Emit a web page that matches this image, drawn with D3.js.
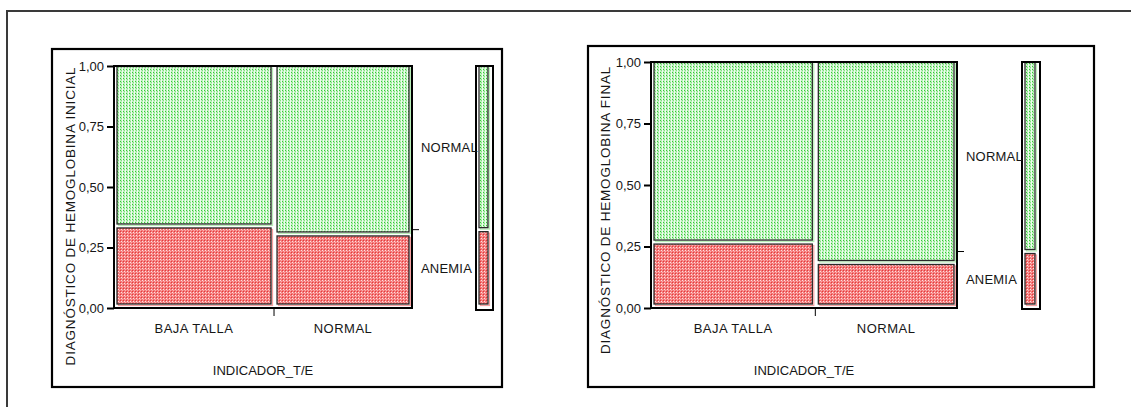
<!DOCTYPE html>
<html>
<head>
<meta charset="utf-8">
<script src="https://cdn.jsdelivr.net/npm/d3@7"></script>
<style>
  html, body { margin: 0; padding: 0; background: #fff; }
  svg { display: block; }
  text { font-family: "Liberation Sans", Arial, sans-serif; fill: #161616; }
</style>
</head>
<body>
<svg id="chart" width="1131" height="407"></svg>
<script>
// Mosaic plots: anaemia diagnosis (initial / final) by height-for-age indicator
const categories = ["BAJA TALLA", "NORMAL"];          // INDICADOR_T/E
const responses = ["ANEMIA", "NORMAL"];               // stacked from bottom
const columnShare = [0.537, 0.463];                   // share of children per category
const anemiaInicial = [0.339, 0.306];                 // proportion with anaemia, initial
const anemiaFinal = [0.268, 0.185];                   // proportion with anaemia, final
const yTicks = [0, 0.25, 0.5, 0.75, 1];
const yTickLabels = ["0,00", "0,25", "0,50", "0,75", "1,00"];
const xTitle = "INDICADOR_T/E";
const yTitles = ["DIAGNÓSTICO DE HEMOGLOBINA INICIAL", "DIAGNÓSTICO DE HEMOGLOBINA FINAL"];

const svg = d3.select("#chart");
const defs = svg.append("defs");

// dotted fills
const gPat = defs.append("pattern").attr("id", "fillNormal")
  .attr("patternUnits", "userSpaceOnUse").attr("width", 3).attr("height", 3);
gPat.append("rect").attr("width", 3).attr("height", 3).attr("fill", "#bff3bf");
gPat.append("rect").attr("x", 0).attr("y", 0).attr("width", 1).attr("height", 1).attr("fill", "#35c935");
gPat.append("rect").attr("x", 1).attr("y", 1).attr("width", 1).attr("height", 1).attr("fill", "#7fe07f");
gPat.append("rect").attr("x", 2).attr("y", 0).attr("width", 1).attr("height", 3).attr("fill", "#eefcee");

const rPat = defs.append("pattern").attr("id", "fillAnemia")
  .attr("patternUnits", "userSpaceOnUse").attr("width", 3).attr("height", 3);
rPat.append("rect").attr("width", 3).attr("height", 3).attr("fill", "#f47a7a");
rPat.append("rect").attr("x", 0).attr("y", 0).attr("width", 1).attr("height", 1).attr("fill", "#e23c3c");
rPat.append("rect").attr("x", 1).attr("y", 1).attr("width", 1).attr("height", 1).attr("fill", "#fde2e2");
rPat.append("rect").attr("x", 2).attr("y", 2).attr("width", 1).attr("height", 1).attr("fill", "#f9b0b0");

const fills = { ANEMIA: "url(#fillAnemia)", NORMAL: "url(#fillNormal)" };
const shades = { ANEMIA: "#f6a0a0", NORMAL: "#b8efb8" };

// page frame (top and left edges)
svg.append("path")
  .attr("d", "M7,407 L7,11 L1131,11")
  .attr("fill", "none").attr("stroke", "#3a3a3a").attr("stroke-width", 2);

const panels = [
  { anemia: anemiaInicial, title: yTitles[0],
    box: [52, 49, 502, 387], plot: [114, 66, 412, 308], marg: [476, 66, 493, 310],
    yTitleX: 75, yTitleY: 216 },
  { anemia: anemiaFinal, title: yTitles[1],
    box: [588, 46, 1094, 387], plot: [651, 62, 957, 308], marg: [1022, 62, 1040, 309],
    yTitleX: 610, yTitleY: 210 }
];

function tile(g, x0, x1, y0, y1, key) {
  // light offset edge, then dotted tile with dark outline
  g.append("rect")
    .attr("x", x0 + 1.5).attr("y", y0 + 1.5)
    .attr("width", Math.max(0, x1 - x0)).attr("height", Math.max(0, y1 - y0))
    .attr("fill", "none").attr("stroke", shades[key]).attr("stroke-width", 1.2);
  g.append("rect")
    .attr("x", x0).attr("y", y0)
    .attr("width", Math.max(0, x1 - x0)).attr("height", Math.max(0, y1 - y0))
    .attr("fill", fills[key]).attr("stroke", "#2a2a2a").attr("stroke-width", 1.3);
}

panels.forEach(p => {
  const g = svg.append("g");
  const [bx0, by0, bx1, by1] = p.box;
  const [px0, py0, px1, py1] = p.plot;

  const y = d3.scaleLinear().domain([0, 1]).range([py1, py0]);
  const cum = d3.cumsum(columnShare);
  const x = d3.scaleLinear().domain([0, 1]).range([px0, px1]);

  // cells
  categories.forEach((c, i) => {
    const c0 = x(i === 0 ? 0 : cum[i - 1]);
    const c1 = x(cum[i]);
    const a = p.anemia[i];
    tile(g, c0 + 3, c1 - 3, y(a) + 2, y(0) - 4, "ANEMIA");
    tile(g, c0 + 3, c1 - 3, y(1) + 0.5, y(a) - 2, "NORMAL");
  });

  // plot frame
  g.append("rect")
    .attr("x", px0).attr("y", py0).attr("width", px1 - px0).attr("height", py1 - py0)
    .attr("fill", "none").attr("stroke", "#000").attr("stroke-width", 2);

  // y axis
  const yAxis = d3.axisLeft(y).tickValues(yTicks)
    .tickFormat((d, i) => yTickLabels[i]).tickSize(7).tickPadding(3);
  const ya = g.append("g").attr("transform", `translate(${px0},0)`).call(yAxis);
  ya.select(".domain").remove();
  ya.selectAll(".tick line").attr("stroke", "#000").attr("stroke-width", 2);
  ya.selectAll(".tick text").attr("font-size", 13).attr("fill", "#161616")
    .style("font-family", "'Liberation Sans', Arial, sans-serif");

  // x axis: boundary tick between categories, labels at column centres
  const bounds = cum.slice(0, -1);
  g.selectAll(".xb").data(bounds).join("line")
    .attr("x1", d => x(d)).attr("x2", d => x(d))
    .attr("y1", py1 + 1).attr("y2", py1 + 8)
    .attr("stroke", "#000").attr("stroke-width", 1);
  g.selectAll(".xl").data(categories).join("text")
    .attr("x", (d, i) => (x(i === 0 ? 0 : cum[i - 1]) + x(cum[i])) / 2)
    .attr("y", py1 + 25)
    .attr("text-anchor", "middle").attr("font-size", 13)
    .attr("letter-spacing", 0.5)
    .text(d => d);

  g.append("text")
    .attr("x", (px0 + px1) / 2).attr("y", py1 + 67)
    .attr("text-anchor", "middle").attr("font-size", 13)
    .text(xTitle);

  g.append("text")
    .attr("transform", `translate(${p.yTitleX},${p.yTitleY}) rotate(-90)`)
    .attr("text-anchor", "middle").attr("font-size", 13.5)
    .attr("letter-spacing", 0.8)
    .text(p.title);

  // marginal bar (overall proportion)
  const overall = d3.sum(columnShare.map((w, i) => w * p.anemia[i])) / d3.sum(columnShare);
  const [mx0, my0, mx1, my1] = p.marg;
  tile(g, mx0 + 3, mx1 - 5, y(overall) + 2, y(0) - 4, "ANEMIA");
  tile(g, mx0 + 3, mx1 - 5, y(1) + 0.5, y(overall) - 2, "NORMAL");
  g.append("rect")
    .attr("x", mx0).attr("y", my0).attr("width", mx1 - mx0).attr("height", my1 - my0)
    .attr("fill", "none").attr("stroke", "#000").attr("stroke-width", 2);

  // overall split marker at the right edge of the plot
  g.append("line")
    .attr("x1", px1).attr("x2", px1 + 7)
    .attr("y1", y(overall)).attr("y2", y(overall))
    .attr("stroke", "#000").attr("stroke-width", 1);

  // response labels beside the marginal bar
  const segs = [[0, overall], [overall, 1]];
  g.selectAll(".rl").data(responses).join("text")
    .attr("x", px1 + 9)
    .attr("y", (d, i) => (y(segs[i][0]) + y(segs[i][1])) / 2)
    .attr("dy", "0.35em").attr("font-size", 13)
    .attr("letter-spacing", 0.2)
    .text(d => d);

  // panel box
  g.append("rect")
    .attr("x", bx0).attr("y", by0).attr("width", bx1 - bx0).attr("height", by1 - by0)
    .attr("fill", "none").attr("stroke", "#000").attr("stroke-width", 2.2);
});
</script>
</body>
</html>
